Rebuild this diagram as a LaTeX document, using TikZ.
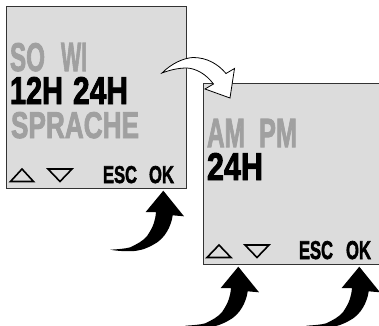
\documentclass[tikz,border=0pt]{standalone}
\usepackage{graphicx}
\usepackage{fontspec}
\setmainfont{Liberation Sans}[BoldFeatures={FakeBold=2.5}]
\definecolor{panelgray}{HTML}{DCDCDC}
\definecolor{lcdgray}{HTML}{A0A0A0}
\newcommand{\lcdtext}[3]{\resizebox{#1bp}{#2bp}{\bfseries #3}}
\tikzset{
  panel/.style={draw=black!80,line width=1bp,fill=panelgray,inner sep=0pt},
  lcd/.style={inner sep=0pt,outer sep=0pt,anchor=north west,text=black},
  dim/.style={lcd,text=lcdgray},
  softkey/.style={draw=black,line width=1.6bp,line join=miter,fill=none},
  push/.style={fill=black,draw=none},
  flow/.style={draw=black,line width=0.8bp,fill=white,line join=miter}
}
\newcommand{\pusharrow}[2]{%
  \path[push,shift={(#1,#2)}] (0,0) -- (20.7,25.6) -- (9.4,24.6)
    .. controls (8,35) and (2,48) .. (-10,54)
    .. controls (-18,58.5) and (-25,60.5) .. (-33,60.5)
    .. controls (-42,60.5) and (-48,60) .. (-53,59)
    .. controls (-45,58.5) and (-38,58) .. (-33,56.6)
    .. controls (-26,53) and (-21,51) .. (-16,45)
    .. controls (-10,36) and (-8,30) .. (-7.3,21.3) -- (-17.6,21.3) -- cycle;}
\begin{document}
\begin{tikzpicture}[x=1bp,y=-1bp]
\useasboundingbox (0,0) rectangle (379,326);
\fill[white] (0,0) rectangle (379,326);
% first display
\draw[panel] (6.5,6.5) rectangle (186,188);
\node[dim] (so) at (10,43) {\lcdtext{35}{28}{SO}\hspace{16bp}\lcdtext{26}{28}{WI}};
\node[lcd] (twelve) at (10,77) {\lcdtext{53}{27}{12H}\hspace{10bp}\lcdtext{55}{27}{24H}};
\node[dim] (sprache) at (11,112) {\lcdtext{128}{26}{SPRACHE}};
\draw[softkey] (10.5,181.5) -- (22,169) -- (33.5,181.5) -- cycle;
\draw[softkey] (48,169) -- (72,169) -- (60,181.5) -- cycle;
\node[lcd] (esca) at (103,166) {\lcdtext{34}{17}{ESC}};
\node[lcd] (oka) at (149,166) {\lcdtext{25}{17}{OK}};
% second display
\fill[panelgray] (203.5,83.5) rectangle (379,263.5);
\draw[panel] (379.5,83) -- (203,83) -- (203,264) -- (379.5,264);
\node[dim] (ampm) at (207,119) {\lcdtext{38}{28}{AM}\hspace{14bp}\lcdtext{38}{28}{PM}};
\node[lcd] (tfh) at (207,153) {\lcdtext{56}{27}{24H}};
\draw[softkey] (207,257.5) -- (219,245) -- (231,257.5) -- cycle;
\draw[softkey] (245,245) -- (269,245) -- (257,257.5) -- cycle;
\node[lcd] (escb) at (299,241) {\lcdtext{34}{18}{ESC}};
\node[lcd] (okb) at (346,241) {\lcdtext{25}{18}{OK}};
% transition arrow
\draw[flow] (162,73) .. controls (172,63) and (184,58) .. (193,57.5)
  .. controls (207,57.5) and (218,64) .. (226,73.5) -- (234.5,68.5) -- (230,98) -- (205,89) -- (213.5,84)
  .. controls (206,74) and (196,68.5) .. (187,68) .. controls (178,68) and (170,70) .. cycle;
% push arrows
\pusharrow{163.3}{190.7}
\pusharrow{238.3}{266.7}
\pusharrow{359.3}{266.7}
\end{tikzpicture}
\end{document}
